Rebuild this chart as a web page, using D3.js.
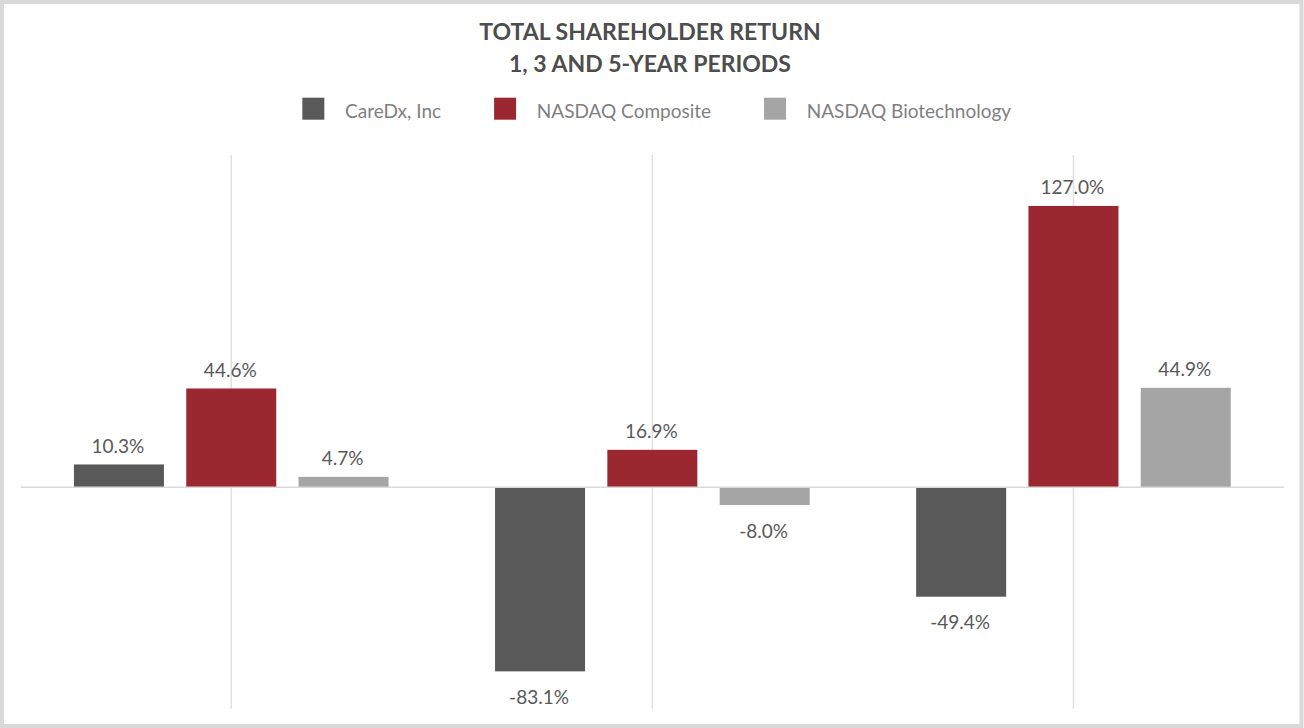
<!DOCTYPE html>
<html>
<head>
<meta charset="utf-8">
<script src="https://cdn.jsdelivr.net/npm/d3@7"></script>
<style>
  html, body { margin: 0; padding: 0; background: #ffffff; }
  svg { display: block; }
  text { font-family: Lato, "Open Sans", sans-serif; }
</style>
</head>
<body>
<svg id="chart" width="1304" height="728"></svg>
<script>
// ---- data ----
const titleLines = ["TOTAL SHAREHOLDER RETURN", "1, 3 AND 5-YEAR PERIODS"];
const categories = ["1-Year", "3-Year", "5-Year"];
const seriesNames = ["CareDx, Inc", "NASDAQ Composite", "NASDAQ Biotechnology"];
const careDx = [10.3, -83.1, -49.4];
const nasdaqComposite = [44.6, 16.9, 127.0];
const nasdaqBiotech = [4.7, -8.0, 44.9];
const seriesColors = ["#595959", "#9b2830", "#a5a5a5"];
const yDomain = [-100, 150];

const seriesValues = [careDx, nasdaqComposite, nasdaqBiotech];
const rows = categories.map((c, i) => ({
  category: c,
  values: seriesNames.map((s, j) => ({ series: s, value: seriesValues[j][i], idx: j }))
}));

const W = 1304, H = 728;
const svg = d3.select("#chart");

// outer border
svg.append("rect")
  .attr("x", 2).attr("y", 2).attr("width", W - 4.5).attr("height", H - 4)
  .attr("fill", "#ffffff").attr("stroke", "#d9d9d9").attr("stroke-width", 4);

// scales
const plotLeft = 20.7, plotRight = 1284;
const x0 = d3.scaleBand().domain(categories).range([plotLeft, plotRight]).paddingInner(0).paddingOuter(0);
const x1 = d3.scaleBand().domain(seriesNames).range([0, x0.bandwidth()]).paddingInner(0.1986).paddingOuter(0.474);
const y = d3.scaleLinear().domain(yDomain).range([708.8, 155]);

// vertical gridlines at category centres
svg.append("g").selectAll("line").data(categories).join("line")
  .attr("x1", d => x0(d) + x0.bandwidth() / 2)
  .attr("x2", d => x0(d) + x0.bandwidth() / 2)
  .attr("y1", y(yDomain[0])).attr("y2", y(yDomain[1]))
  .attr("stroke", "#e0e0e0").attr("stroke-width", 1.5);

// bars
const groups = svg.append("g").selectAll("g").data(rows).join("g")
  .attr("transform", d => `translate(${x0(d.category)},0)`);

groups.selectAll("rect").data(d => d.values).join("rect")
  .attr("x", d => x1(d.series))
  .attr("width", x1.bandwidth())
  .attr("y", d => y(Math.max(0, d.value)))
  .attr("height", d => Math.abs(y(d.value) - y(0)))
  .attr("fill", d => seriesColors[d.idx]);

// zero line
svg.append("line")
  .attr("x1", plotLeft).attr("x2", plotRight)
  .attr("y1", y(0)).attr("y2", y(0))
  .attr("stroke", "#d9d9d9").attr("stroke-width", 1.5);

// data labels
groups.selectAll("text.lbl").data(d => d.values).join("text")
  .attr("class", "lbl")
  .attr("x", d => x1(d.series) + x1.bandwidth() / 2 - 1)
  .attr("y", d => d.value >= 0 ? y(d.value) - 11.7 : y(d.value) + 32.6)
  .attr("text-anchor", "middle")
  .attr("font-size", 19)
  .attr("fill", "#595959")
  .text(d => d.value.toFixed(1) + "%");

// title
svg.append("g").selectAll("text").data(titleLines).join("text")
  .attr("x", 650)
  .attr("y", (d, i) => 40 + i * 31.7)
  .attr("text-anchor", "middle")
  .attr("font-size", 23)
  .attr("font-weight", "bold")
  .attr("fill", "#4d4d4d")
  .text(d => d);

// legend
const legend = svg.append("g");
const sw = 22, swGap = 20.7, itemGap = 53;
const items = legend.selectAll("g").data(seriesNames).join("g");
items.append("rect")
  .attr("width", sw).attr("height", sw)
  .attr("y", 97.7)
  .attr("fill", (d, i) => seriesColors[i]);
items.append("text")
  .attr("x", sw + swGap)
  .attr("y", 118.3)
  .attr("font-size", 19)
  .attr("fill", "#7f7f7f")
  .text(d => d);
let widths = [];
items.each(function () { widths.push(this.getBBox().width); });
const total = d3.sum(widths) + itemGap * (widths.length - 1);
let cx = 656.8 - total / 2;
items.attr("transform", (d, i) => {
  const t = `translate(${cx},0)`;
  cx += widths[i] + itemGap;
  return t;
});
</script>
</body>
</html>
